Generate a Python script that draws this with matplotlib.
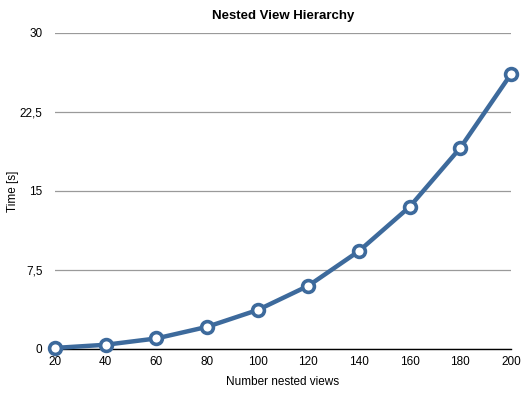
import matplotlib
matplotlib.use("Agg")
import matplotlib.pyplot as plt
from matplotlib.ticker import FuncFormatter

views = [20, 40, 60, 80, 100, 120, 140, 160, 180, 200]
times = [0.1, 0.4, 1.0, 2.1, 3.7, 6.0, 9.3, 13.5, 19.1, 26.1]
y_ticks = [0, 7.5, 15, 22.5, 30]

plt.rcParams['font.family'] = ['Liberation Sans', 'DejaVu Sans']

fig = plt.figure(figsize=(5.29, 3.95), dpi=100)
ax = fig.add_axes([0.104, 0.1165, 0.862, 0.8])

ax.plot(views, times, color='#3d6a9c', linewidth=3.2, marker='o',
        markersize=8.5, markerfacecolor='white', markeredgecolor='#3d6a9c',
        markeredgewidth=2.6, clip_on=False, zorder=3)

ax.set_xlim(20, 200)
ax.set_ylim(0, 30)
ax.set_xticks(views)
ax.set_yticks(y_ticks)
ax.yaxis.set_major_formatter(FuncFormatter(lambda v, p: ('%g' % v).replace('.', ',')))
ax.grid(axis='y', color='#9a9a9a', linewidth=0.9)
ax.set_axisbelow(True)
for s in ['top', 'right', 'left']:
    ax.spines[s].set_visible(False)
ax.spines['bottom'].set_color('black')
ax.spines['bottom'].set_linewidth(1.0)
ax.tick_params(axis='both', length=0, labelsize=8.5, pad=5)
ax.tick_params(axis='y', pad=9)

ax.set_xlabel('Number nested views', fontsize=8.5, labelpad=6)
ax.set_ylabel('Time [s]', fontsize=8.5)
ax.yaxis.set_label_coords(-0.078, 0.5)
ax.set_title('Nested View Hierarchy', fontsize=9.5, fontweight='bold', pad=10)

fig.savefig('out.png', dpi=100)
